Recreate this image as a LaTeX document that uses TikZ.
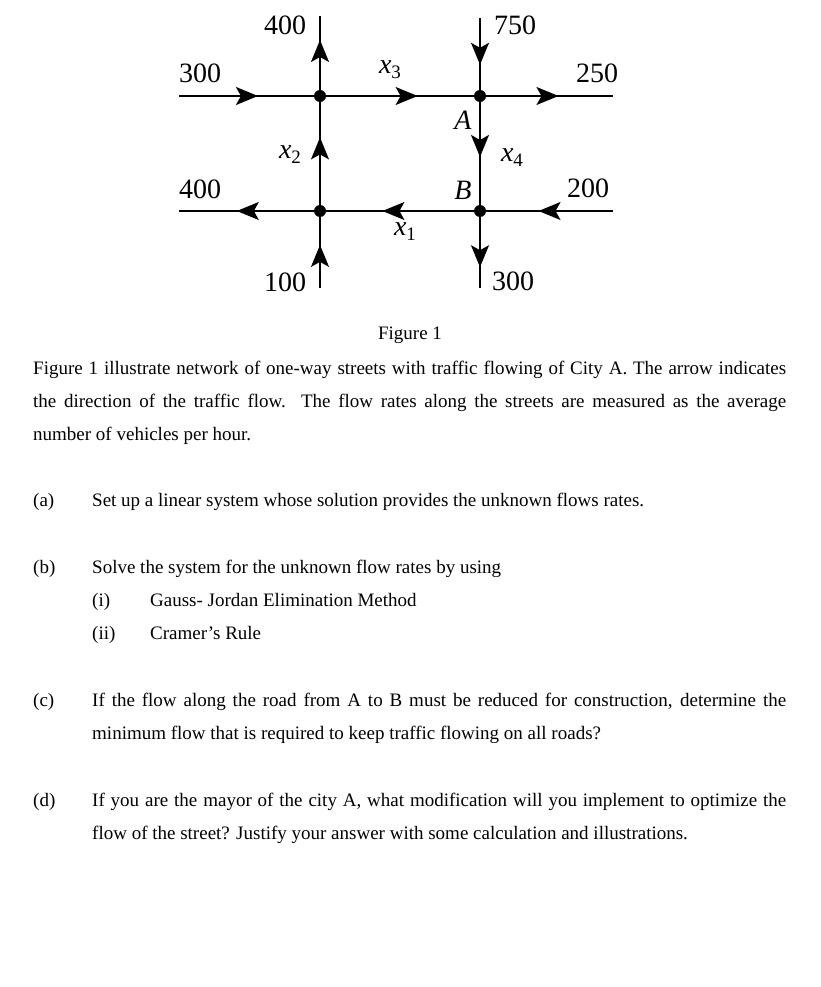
\documentclass[tikz,border=0pt]{standalone}
\usepackage{fontspec}
\setmainfont{Liberation Serif}
\usetikzlibrary{arrows.meta, decorations.markings}

\newcommand{\flowvar}[1]{x\raisebox{-5pt}{\fontsize{19}{19}\selectfont\upshape #1}}

\begin{document}
\begin{tikzpicture}[
    x=1pt, y=-1pt,
    street/.style={line width=1.6pt},
    flow/.style={street, postaction={decorate},
                 decoration={markings, mark=at position #1 with
                   {\arrow{Stealth[length=22pt, width=18pt, inset=5pt]}}}},
    dot/.style={circle, fill, inner sep=0pt, minimum size=12pt},
    num/.style={font=\fontsize{28}{28}\selectfont, inner sep=0pt},
    var/.style={font=\fontsize{28}{28}\selectfont\itshape, inner sep=0pt},
    body/.style={font=\fontsize{19}{33}\selectfont, inner sep=0pt, anchor=base west},
    para/.style={body, anchor=north west, text width=#1, align=justify}
  ]

  \path[fill=white, use as bounding box] (0,0) rectangle (820,987);

  % Street corners
  \coordinate (jnw) at (320,96);
  \coordinate (jA)  at (480,96);
  \coordinate (jsw) at (320,211);
  \coordinate (jB)  at (480,211);

  % Loose ends
  \coordinate (wTop) at (179,96);
  \coordinate (eTop) at (613,96);
  \coordinate (wBot) at (179,211);
  \coordinate (eBot) at (613,211);
  \coordinate (nLeft) at (320,16);
  \coordinate (sLeft) at (320,288);
  \coordinate (nRight) at (480,18);
  \coordinate (sRight) at (480,288);

  % Flows
  \draw[flow=0.56] (wTop) -- (jnw);
  \draw[flow=0.61] (jnw) -- (jA);
  \draw[flow=0.59] (jA) -- (eTop);
  \draw[flow=0.59] (jsw) -- (wBot);
  \draw[flow=0.61] (jB) -- (jsw);
  \draw[flow=0.56] (eBot) -- (jB);
  \draw[flow=0.70] (jnw) -- (nLeft);
  \draw[flow=0.64] (jsw) -- (jnw);
  \draw[flow=0.56] (sLeft) -- (jsw);
  \draw[flow=0.60] (nRight) -- (jA);
  \draw[flow=0.53] (jA) -- (jB);
  \draw[flow=0.73] (jB) -- (sRight);

  \node[dot] (dnw) at (jnw) {};
  \node[dot] (dA) at (jA) {};
  \node[dot] (dsw) at (jsw) {};
  \node[dot] (dB) at (jB) {};

  % Labels
  \node[num] (inTop) at (200,73) {300};
  \node[num] (outNL) at (285,25) {400};
  \node[num] (inNR) at (515,25) {750};
  \node[num] (outE) at (597,73) {250};
  \node[num] (outW) at (200,189) {400};
  \node[num] (inE) at (588,188) {200};
  \node[num] (inS) at (285,282) {100};
  \node[num] (outS) at (513,281) {300};
  \node[var] (lx3) at (390,70) {\flowvar{3}};
  \node[var] (lx2) at (290,155) {\flowvar{2}};
  \node[var] (lx4) at (512,158) {\flowvar{4}};
  \node[var] (lx1) at (405,232) {\flowvar{1}};
  \node[var] (lA) at (463,120) {A};
  \node[var] (lB) at (463,190) {B};

  % Caption and question text
  \node[body, anchor=base] (cap) at (410,339) {Figure 1};
  \node[para=753pt] (intro) at (33,361) {\rule{0pt}{13pt}Figure 1 illustrate network of one-way streets with traffic flowing of City A. The arrow indicates\linebreak the direction of the traffic flow. The flow rates along the streets are measured as the average\linebreak number of vehicles per hour.};

  \node[body] (qa) at (33,506) {(a)};
  \node[body] (ta) at (92,506) {Set up a linear system whose solution provides the unknown flows rates.};

  \node[body] (qb) at (33,573) {(b)};
  \node[body] (tb) at (92,573) {Solve the system for the unknown flow rates by using};
  \node[body] (qbi) at (92,606) {(i)};
  \node[body] (tbi) at (150,606) {Gauss- Jordan Elimination Method};
  \node[body] (qbii) at (92,639) {(ii)};
  \node[body] (tbii) at (150,639) {Cramer’s Rule};

  \node[body] (qc) at (33,706) {(c)};
  \node[para=694pt] (tc) at (92,693) {\rule{0pt}{13pt}If the flow along the road from A to B must be reduced for construction, determine the\linebreak minimum flow that is required to keep traffic flowing on all roads?};

  \node[body] (qd) at (33,806) {(d)};
  \node[para=694pt] (td) at (92,793) {\rule{0pt}{13pt}If you are the mayor of the city A, what modification will you implement to optimize the\linebreak flow of the street? Justify your answer with some calculation and illustrations.};

\end{tikzpicture}
\end{document}
